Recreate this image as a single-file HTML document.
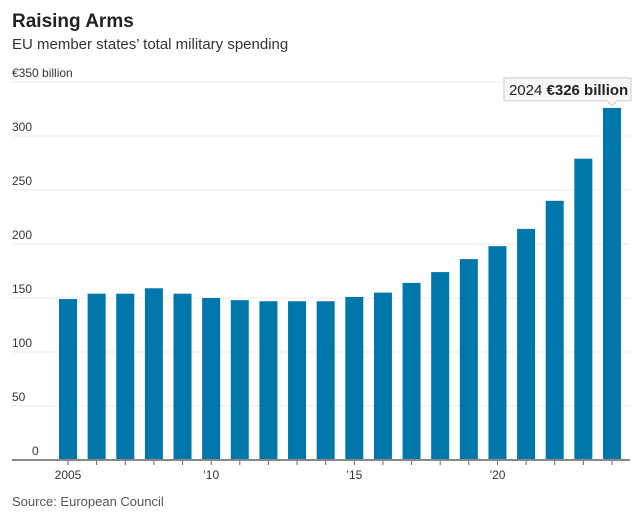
<!DOCTYPE html>
<html><head><meta charset="utf-8"><style>
body{margin:0;background:#fff;font-family:"Liberation Sans Narrow","Liberation Sans",sans-serif;}
svg text{font-family:"Liberation Sans Narrow","Liberation Sans",sans-serif;}
</style></head><body>
<svg width="641" height="515">
<text x="12" y="27" font-size="19" font-weight="bold" fill="#222">Raising Arms</text>
<text x="12" y="49" font-size="15" fill="#333">EU member states’ total military spending</text>
<g id="grid"></g><g id="bars"></g><g id="xaxis"></g>
<text x="12" y="506" font-size="13" fill="#555">Source: European Council</text>
</svg>
<script>
const years=[2005,2006,2007,2008,2009,2010,2011,2012,2013,2014,2015,2016,2017,2018,2019,2020,2021,2022,2023,2024];
const values=[149,154,154,159,154,150,148,147,147,147,151,155,164,174,186,198,214,240,279,326];
const yTicks=[0,50,100,150,200,250,300,350];
const xTickLabels={2005:"2005",2010:"’10",2015:"’15",2020:"’20"};
const NS="http://www.w3.org/2000/svg";
const y0=460,yTop=82,yMax=350;
const y=v=>y0-(v/yMax)*(y0-yTop);
const x=yr=>68+(yr-2005)*28.63;
const bw=18;
function mk(t,a,p){const e=document.createElementNS(NS,t);for(const k in a)e.setAttribute(k,a[k]);p.appendChild(e);return e;}
const grid=document.getElementById('grid'),bars=document.getElementById('bars'),xa=document.getElementById('xaxis');
yTicks.forEach(v=>{
 if(v>0){const l=mk('line',{x1:12,x2:630,y1:y(v),y2:y(v),stroke:'#e8e8e8','stroke-width':1},grid);
 
 }
 const t=mk('text',{x:12,y:y(v)-5,'font-size':12,fill:'#333'},grid);
 t.textContent=v===350?'€350 billion':(v===0?'0':String(v));
 if(v===0)t.setAttribute('x',32);
 
 
});
years.forEach((yr,i)=>{
 const r=mk('rect',{x:x(yr)-bw/2,y:y(values[i]),width:bw,height:y0-y(values[i]),fill:'#0077aa'},bars);
 
 
 const tk=mk('line',{x1:x(yr),x2:x(yr),y1:y0,y2:y0+5,stroke:'#666','stroke-width':1},xa);
 
 
 if(xTickLabels[yr]){const t=mk('text',{x:x(yr),y:y0+19,'font-size':12,fill:'#333','text-anchor':'middle'},xa);
 t.textContent=xTickLabels[yr];
 
 }
});
const ax=mk('line',{x1:12,x2:630,y1:y0,y2:y0,stroke:'#888','stroke-width':2},xa);


const lastYr=years[years.length-1],lastV=values[values.length-1];
const ann=mk('g',{},xa);


const cx=x(lastYr),by=y(lastV)-6;
mk('path',{d:`M${cx-108} ${by-24} H${cx+19} V${by-1} H${cx+5} L${cx} ${by+4} L${cx-5} ${by-1} H${cx-108} Z`,fill:'#f7f7f7',stroke:'#ccc'},ann);
const at=mk('text',{x:cx-103,y:by-7,'font-size':15,fill:'#222'},ann);
at.innerHTML='2024 <tspan font-weight="bold">€'+lastV+' billion</tspan>';
</script>
</body></html>
